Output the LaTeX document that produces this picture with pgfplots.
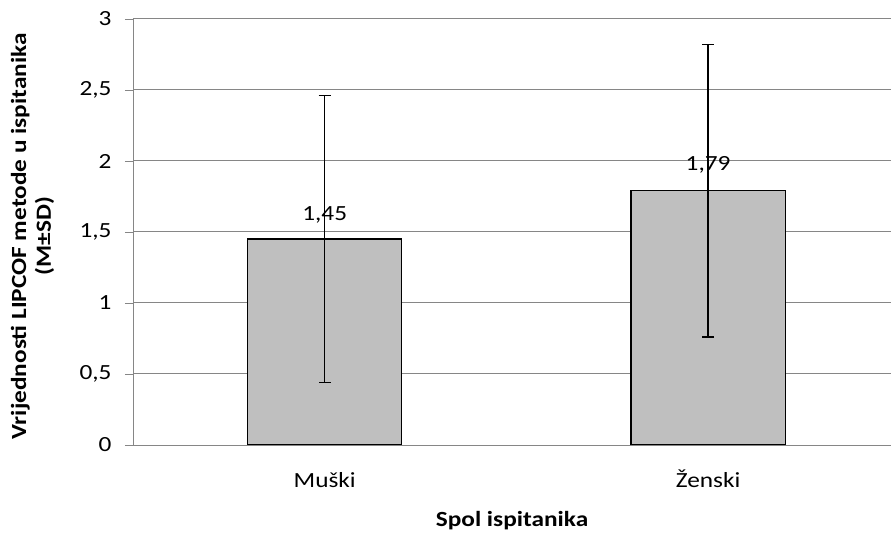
\documentclass[border=0pt]{standalone}
\usepackage{pgfplots}
\pgfplotsset{compat=1.18}
\usepackage{fontspec}
\setmainfont{Carlito}[FakeStretch=1.17]
\definecolor{axgray}{HTML}{868686}
\definecolor{barfill}{HTML}{BFBFBF}
\newcommand\fs{\fontsize{21.7}{25}\selectfont}
\begin{document}
\begin{tikzpicture}
\useasboundingbox (0,0) rectangle (891bp,533bp);
\begin{axis}[
  at={(133bp,88bp)}, anchor=south west,
  scale only axis, width=758bp, height=426bp,
  xmin=-0.5, xmax=1.477, ymin=0, ymax=3,
  ytick={0,0.5,...,3},
  xtick={0,1}, xticklabels={Muški,Ženski},
  xtick style={draw=none},
  extra x ticks={-0.5,0.5},
  extra x tick labels={},
  extra x tick style={grid=none, tick style={draw=axgray, line width=0.8bp}, major tick length=8bp},
  tick align=outside, major tick length=8bp,
  ytick style={draw=axgray, line width=0.8bp},
  ymajorgrids, grid style={axgray, line width=1bp},
  axis x line*=bottom, axis y line*=left,
  axis line style={axgray, line width=1bp, -},
  /pgf/number format/.cd, use comma, assume math mode=true,
  /pgfplots/.cd,
  ticklabel style={font=\fs, text=black},
  yticklabel style={xshift=-10bp},
  xticklabel style={anchor=base, yshift=-34bp},
  xlabel={\textbf{Spol ispitanika}},
  xlabel style={font=\fs, anchor=base, yshift=-20bp},
  ylabel={\textbf{Vrijednosti LIPCOF metode u ispitanika}\\\textbf{(M±SD)}},
  ylabel style={font=\fs, align=center, at={(axis description cs:-0.1326,0.49)}, anchor=center},
]
\addplot[ybar, bar width=0.402, fill=barfill, draw=black, line width=1.2bp,
  error bars/.cd, y dir=both, y explicit,
  error bar style={black, line width=1.3bp},
  error mark options={rotate=90, mark size=6bp, black, line width=1.3bp}]
  coordinates {(0,1.45) +- (0,1.01) (1,1.79) +- (0,1.03)};
\addplot[only marks, mark=none,
  nodes near coords, point meta=explicit symbolic,
  every node near coord/.append style={anchor=base, yshift=0bp, inner sep=0pt, font=\fs}]
  coordinates {(0,1.58) [1,45] (1,1.93) [1,79]};
\end{axis}
\end{tikzpicture}
\end{document}
